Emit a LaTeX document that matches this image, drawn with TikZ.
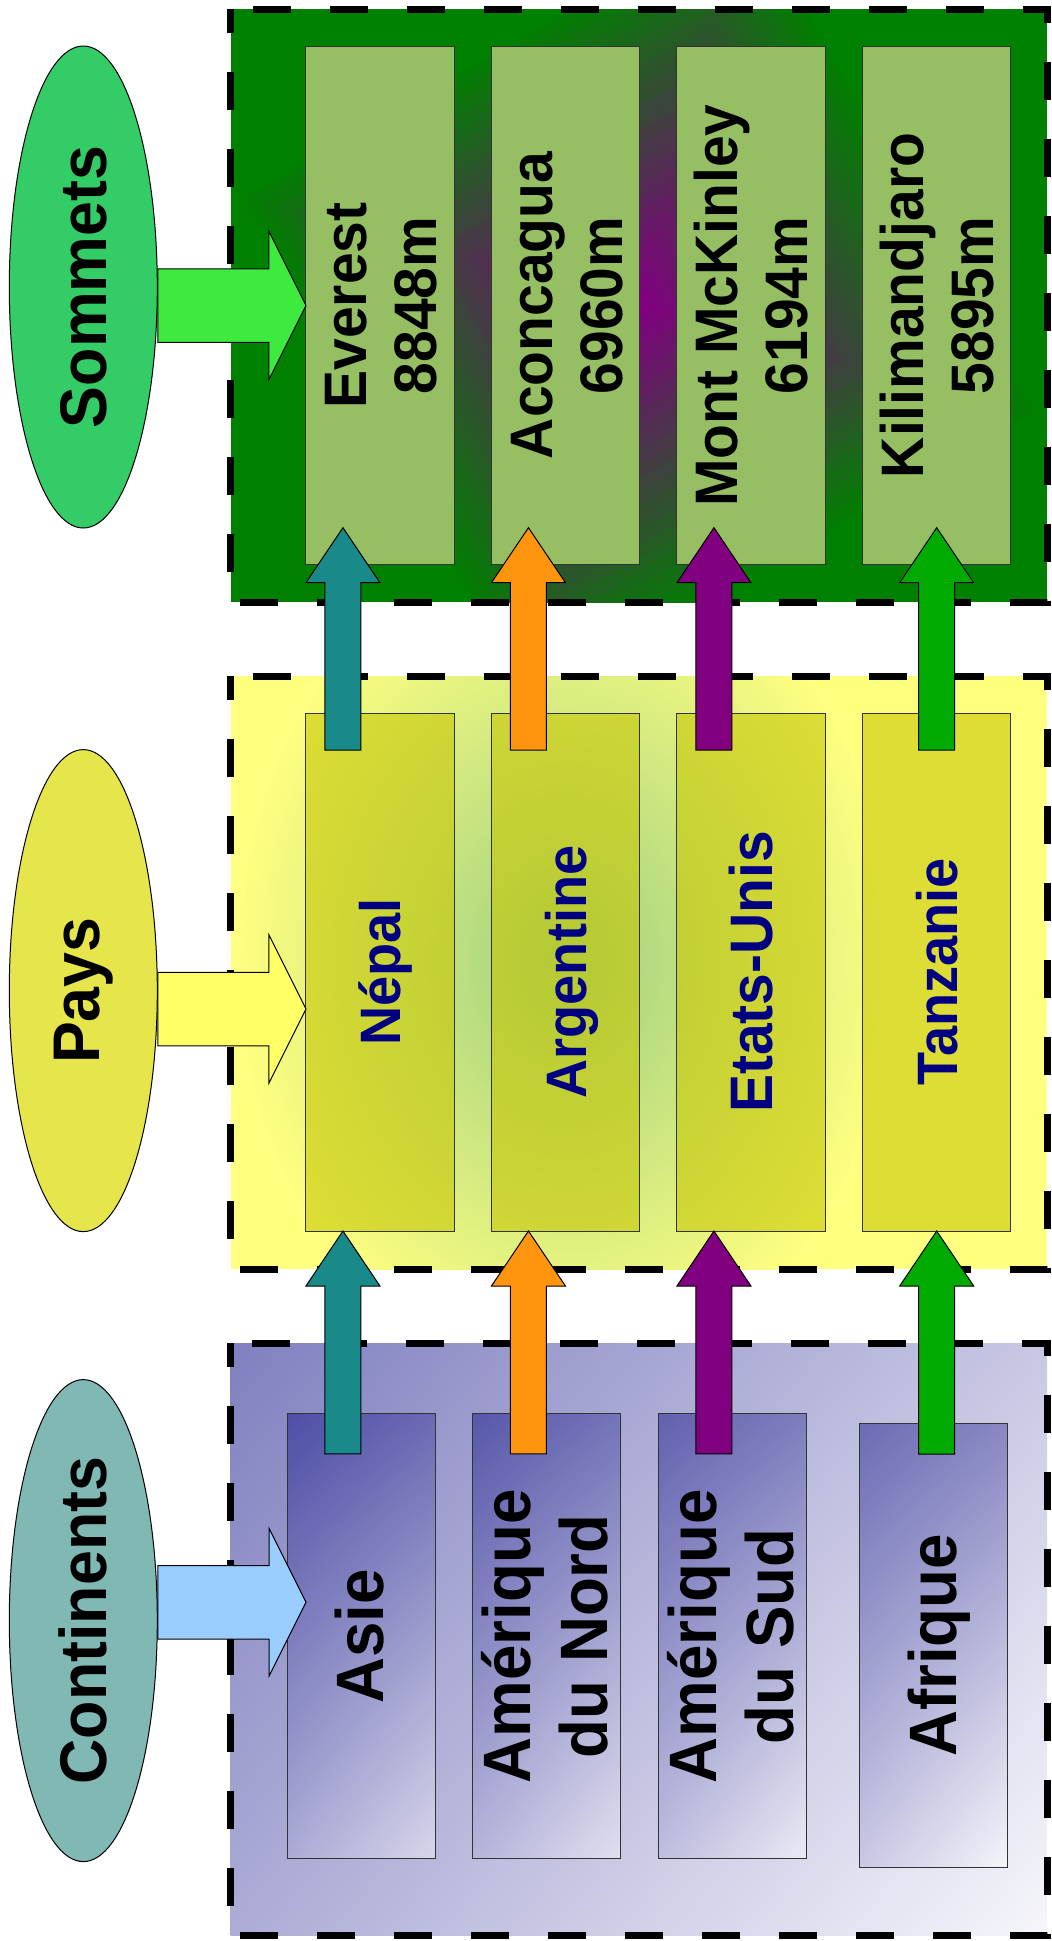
\documentclass[tikz,border=0pt]{standalone}
\usepackage{graphicx}
\usepackage{fontspec}
\setmainfont{Liberation Sans}[FakeStretch=0.95]
\usetikzlibrary{positioning,calc,shapes.geometric,shadings}

% colours
\definecolor{framegreen}{HTML}{008000}
\definecolor{peakpurple}{HTML}{800080}
\definecolor{peakfill}{HTML}{96BE62}
\definecolor{sommetsfill}{HTML}{33CC66}
\definecolor{paysfill}{HTML}{E6E64C}
\definecolor{contfill}{HTML}{80B8B4}
\definecolor{sommetsarrow}{HTML}{3EEA3E}
\definecolor{paysarrow}{HTML}{FFFF66}
\definecolor{contarrow}{HTML}{99CCFF}
\definecolor{paysframe}{HTML}{FFFF80}
\definecolor{payshalo}{HTML}{9CCF80}
\definecolor{paysfill2}{HTML}{C6C600}
\definecolor{paystext}{HTML}{000080}
\definecolor{contUL}{HTML}{8080C0}
\definecolor{contUR}{HTML}{C8C8E4}
\definecolor{contLL}{HTML}{ACACD6}
\definecolor{contLR}{HTML}{F6F6FB}
\definecolor{boxUL}{HTML}{00007E}
\definecolor{boxUR}{HTML}{303096}
\definecolor{boxLL}{HTML}{ACACD7}
\definecolor{boxLR}{HTML}{FFFFFF}
\definecolor{arrteal}{HTML}{1A8989}
\definecolor{arrorange}{HTML}{FF950E}
\definecolor{arrpurple}{HTML}{800080}
\definecolor{arrgreen}{HTML}{00AA00}

% upright text turned a quarter, lines centred
\newcommand{\vtext}[1]{\makebox[0pt]{\hspace{15pt}\rotatebox{90}{\begin{tabular}{@{}c@{}}#1\end{tabular}}}}

% block arrow: colour, from, tip, shaft half width, head half width, head length
\newcommand{\blockarrow}[6]{%
  \coordinate (ah) at ($(#3)!#6!(#2)$);
  \draw[arrowline, fill=#1]
    ($(#2)!#4!90:(#3)$) -- ($(ah)!#4!90:(#3)$) -- ($(ah)!#5!90:(#3)$) -- (#3)
    -- ($(ah)!#5!-90:(#3)$) -- ($(ah)!#4!-90:(#3)$) -- ($(#2)!#4!-90:(#3)$) -- cycle;
}

\begin{document}
\begin{tikzpicture}[x=1pt, y=-1pt,
    levelellipse/.style={ellipse, draw=black, line width=1pt, minimum width=148pt, minimum height=482pt, inner sep=0pt, font=\fontsize{66}{75}\selectfont\bfseries},
    framebox/.style={draw=black, line width=7pt, dash pattern=on 38pt off 39pt, dash phase=14pt},
    peakbox/.style={rectangle, draw=black!80, line width=1pt, fill=peakfill, minimum width=148.5pt, minimum height=518.4pt, inner sep=0pt, outer sep=0pt, font=\fontsize{60}{70}\selectfont\bfseries},
    countrybox/.style={rectangle, draw=black!80, line width=1pt, fill=paysfill2, fill opacity=0.58, text opacity=1, text=paystext, minimum width=148.5pt, minimum height=518pt, inner sep=0pt, outer sep=0pt, font=\fontsize{57}{65}\selectfont\bfseries},
    continentbox/.style={rectangle, draw=black!80, line width=1pt, upper left=boxUL, upper right=boxUR, lower left=boxLL, lower right=boxLR, fill opacity=0.43, text opacity=1, minimum width=148pt, minimum height=444.7pt, inner sep=0pt, outer sep=0pt, font=\fontsize{67}{77}\selectfont\bfseries},
    arrowline/.style={draw=black, line width=1pt, line join=miter}]

  \useasboundingbox (0,0) rectangle (1052,1941);
  \fill[white] (0,0) rectangle (1052,1941);

  % frame of the summits, square gradient green to purple
  \coordinate (peakcentre) at (639,305);
  \begin{scope}
    \clip (230.6,9) rectangle (1047,602);
    \fill[framegreen] (230.6,9) rectangle (1047,602);
    \foreach \k in {1,...,25} {
      \pgfmathsetmacro\shrink{1-\k/26}
      \pgfmathtruncatemacro\mix{\k*4}
      \fill[peakpurple!\mix!framegreen] ($(peakcentre)+\shrink*(-407,-111)$) -- ($(peakcentre)+\shrink*(112,-411)$)
        -- ($(peakcentre)+\shrink*(407,111)$) -- ($(peakcentre)+\shrink*(-112,411)$) -- cycle;
    }
  \end{scope}
  \draw[framebox] (230.6,9) rectangle (1047,602);

  % frame of the countries
  \begin{scope}
    \clip (230.6,676) rectangle (1047,1269);
    \fill[paysframe] (230.6,676) rectangle (1047,1269);
    \shade[inner color=payshalo, outer color=paysframe] (565,960) ellipse [x radius=330pt, y radius=420pt];
  \end{scope}
  \draw[framebox] (230.6,676) rectangle (1047,1269);

  % frame of the continents
  \shade[upper left=contUL, upper right=contUR, lower left=contLL, lower right=contLR] (230.6,1343) rectangle (1047,1935.5);
  \draw[framebox] (230.6,1343) rectangle (1047,1935.5);

  % levels
  \node[levelellipse, fill=sommetsfill] (sommets) at (83.3,287) {\rotatebox{90}{Sommets}};
  \node[levelellipse, fill=paysfill] (pays) at (83.3,990.6) {\rotatebox{90}{Pays}};
  \node[levelellipse, fill=contfill] (continents) at (83.3,1620.6) {\rotatebox{90}{Continents}};

  % summits
  \node[peakbox] (everest) at (380.2,305.5) {\vtext{Everest\\8848m}};
  \node[peakbox, right=37pt of everest] (aconcagua) {\vtext{Aconcagua\\6960m}};
  \node[peakbox, right=37pt of aconcagua] (mckinley) {\vtext{Mont McKinley\\6194m}};
  \node[peakbox, right=37pt of mckinley] (kili) {\vtext{Kilimandjaro\\5895m}};

  % countries
  \node[countrybox] (nepal) at (380.2,972) {\vtext{Népal}};
  \node[countrybox, right=37pt of nepal] (argentine) {\vtext{Argentine}};
  \node[countrybox, right=37pt of argentine, font=\fontsize{60}{68}\selectfont\bfseries] (etats) {\vtext{Etats-Unis}};
  \node[countrybox, right=37pt of etats] (tanzanie) {\vtext{Tanzanie}};

  % continents
  \node[continentbox] (asie) at (361,1636.3) {\vtext{Asie}};
  \node[continentbox, right=37.5pt of asie] (nordam) {\vtext{Amérique\\du Nord}};
  \node[continentbox, right=37.5pt of nordam] (sudam) {\vtext{Amérique\\du Sud}};
  \node[continentbox] (afrique) at (933.4,1645.4) {\vtext{Afrique}};

  % arrows from each level into its frame
  \coordinate (arrfrom) at (sommets.east |- everest.west);
  \blockarrow{sommetsarrow}{arrfrom}{everest.west}{36.75pt}{74pt}{37pt}
  \coordinate (arrtip) at ($(nepal.west)+(0,37)$);
  \coordinate (arrfrom) at (pays.east |- arrtip);
  \blockarrow{paysarrow}{arrfrom}{arrtip}{36.75pt}{74pt}{37pt}
  \coordinate (arrtip) at ($(asie.west)+(19,-34)$);
  \coordinate (arrfrom) at (continents.east |- arrtip);
  \blockarrow{contarrow}{arrfrom}{arrtip}{36.75pt}{74pt}{37pt}

  % arrows continent -> country -> summit
  \foreach \cont/\ctry/\peak/\col/\dx/\dy in {asie/nepal/everest/arrteal/37/40, nordam/argentine/aconcagua/arrorange/37/40,
      sudam/etats/mckinley/arrpurple/37/40, afrique/tanzanie/kili/arrgreen/74.25/31} {
    \coordinate (arrtip) at ($(\ctry.south west)+(\dx,0)$);
    \coordinate (arrfrom) at ($(\cont.north -| arrtip)+(0,\dy)$);
    \blockarrow{\col}{arrfrom}{arrtip}{18pt}{37pt}{55pt}
    \coordinate (arrtip) at ($(\peak.south west)+(\dx,-37)$);
    \coordinate (arrfrom) at ($(\ctry.north west)+(\dx,37)$);
    \blockarrow{\col}{arrfrom}{arrtip}{18pt}{37pt}{55pt}
  }

\end{tikzpicture}
\end{document}
